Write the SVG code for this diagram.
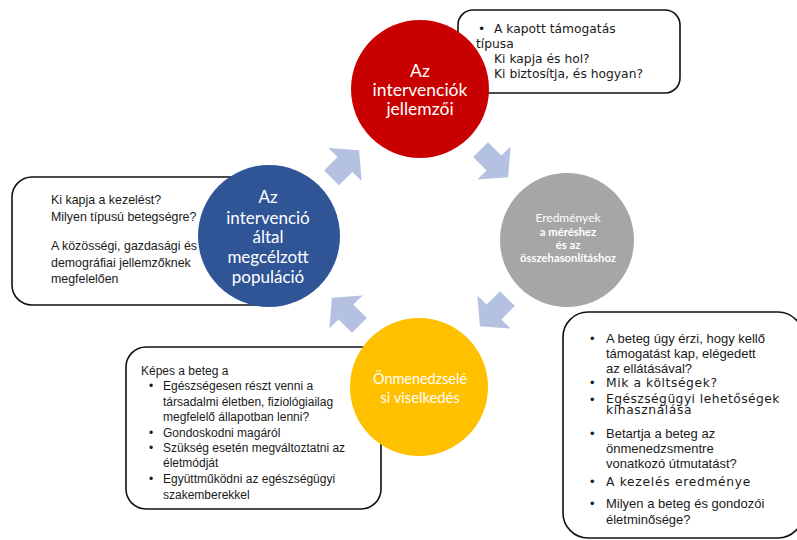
<svg xmlns="http://www.w3.org/2000/svg" width="797" height="540" viewBox="0 0 797 540">
<style>
.box{fill:#fff;stroke:#111;stroke-width:1.6}
.v{font-family:"DejaVu Sans",Verdana,sans-serif;font-size:12.3px;fill:#1a1a1a}
.t{font-family:"Liberation Sans",Arial,sans-serif;fill:#1a1a1a}
.c{font-family:Lato,"Open Sans",sans-serif;fill:#fff;text-anchor:middle}
.arr{fill:#B4C1E1}
</style>
<defs>
<path id="ar" d="M-19,-10.5 L0,-10.5 L0,-23.5 L20,0 L0,23.5 L0,10.5 L-19,10.5 Z"/>
</defs>

<g id="box-top">
<rect class="box" x="458" y="10" width="222" height="83" rx="15"/>
<text class="v" x="478" y="33">•</text>
<text class="v" x="494" y="33">A kapott támogatás</text>
<text class="v" x="476" y="48">típusa</text>
<text class="v" x="494" y="63">Ki kapja és hol?</text>
<text class="v" x="494" y="78">Ki biztosítja, és hogyan?</text>
</g>

<g id="box-left">
<rect class="box" x="12" y="177" width="262" height="128" rx="20"/>
<g class="t" font-size="12.4">
<text x="51" y="204">Ki kapja a kezelést?</text>
<text x="51" y="221">Milyen típusú betegségre?</text>
<text x="51" y="250">A közösségi, gazdasági és</text>
<text x="51" y="267">demográfiai jellemzőknek</text>
<text x="51" y="283">megfelelően</text>
</g>
</g>

<g id="box-bottom-left">
<rect class="box" x="126" y="347" width="255" height="162" rx="20"/>
<g class="t" font-size="12">
<text x="141" y="375">Képes a beteg a</text>
<text x="149" y="390">•</text><text x="163" y="390">Egészségesen részt venni a</text>
<text x="163" y="406">társadalmi életben, fiziológiailag</text>
<text x="163" y="421">megfelelő állapotban lenni?</text>
<text x="149" y="437">•</text><text x="163" y="437">Gondoskodni magáról</text>
<text x="149" y="452">•</text><text x="163" y="452">Szükség esetén megváltoztatni az</text>
<text x="163" y="467">életmódját</text>
<text x="149" y="483">•</text><text x="163" y="483">Együttműködni az egészségügyi</text>
<text x="163" y="499">szakemberekkel</text>
</g>
</g>

<g id="box-bottom-right">
<rect class="box" x="563" y="312" width="240" height="226" rx="25"/>
<g class="t" font-size="13">
<text x="590" y="343">•</text><text x="606" y="343">A beteg úgy érzi, hogy kellő</text>
<text x="606" y="358">támogatást kap, elégedett</text>
<text x="606" y="373">az ellátásával?</text>
<text x="590" y="387">•</text>
<text x="590" y="404">•</text>
<text x="590" y="438">•</text><text x="606" y="438">Betartja a beteg az</text>
<text x="606" y="453">önmenedzsmentre</text>
<text x="606" y="468">vonatkozó útmutatást?</text>
<text x="590" y="486">•</text>
<text x="590" y="508">•</text><text x="606" y="508">Milyen a beteg és gondozói</text>
<text x="606" y="524">életminősége?</text>
</g>
<g class="v" font-size="11">
<text x="606" y="387" letter-spacing="0.6">Mik a költségek?</text>
<text x="606" y="403" letter-spacing="0.45">Egészségügyi lehetőségek</text>
<text x="606" y="414" letter-spacing="0.6">kihasználása</text>
<text x="606" y="486" letter-spacing="0.7">A kezelés eredménye</text>
</g>
</g>

<g id="connectors" class="arr">
<use href="#ar" transform="translate(345,164.5) rotate(-45)"/>
<use href="#ar" transform="translate(494,163) rotate(45)"/>
<use href="#ar" transform="translate(494,312) rotate(135)"/>
<use href="#ar" transform="translate(346,312) rotate(-135)"/>
</g>

<g id="node-red">
<circle cx="420" cy="89" r="69" fill="#C90000"/>
<g class="c" font-size="17.5">
<text x="420" y="77">Az</text>
<text x="420" y="96">intervenciók</text>
<text x="420" y="115">jellemzői</text>
</g>
</g>

<g id="node-gray">
<circle cx="567" cy="240" r="67" fill="#A6A6A6"/>
<text class="c" x="568" y="222" font-size="12" fill="#f4f4f4">Eredmények</text>
<g class="c" font-size="11.3" font-weight="bold">
<text x="568" y="236">a méréshez</text>
<text x="568" y="249">és az</text>
<text x="568" y="262">összehasonlításhoz</text>
</g>
</g>

<g id="node-yellow">
<circle cx="419" cy="387" r="69" fill="#FFC000"/>
<g class="c" font-size="16">
<text x="420" y="384" textLength="94" lengthAdjust="spacingAndGlyphs">Önmenedzselé</text>
<text x="420" y="403" textLength="79" lengthAdjust="spacingAndGlyphs">si viselkedés</text>
</g>
</g>

<g id="node-blue">
<circle cx="269" cy="236" r="71" fill="#2F5597"/>
<g class="c" font-size="17">
<text x="268" y="203">Az</text>
<text x="268" y="224">intervenció</text>
<text x="268" y="243">által</text>
<text x="268" y="263">megcélzott</text>
<text x="268" y="283">populáció</text>
</g>
</g>
</svg>
